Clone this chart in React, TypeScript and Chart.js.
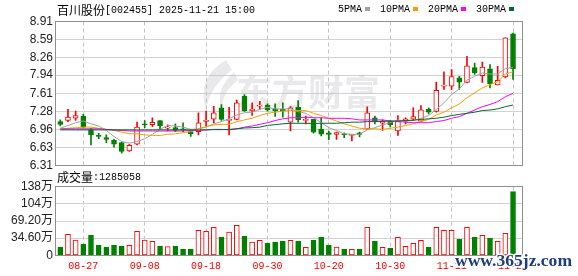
import React, { useEffect, useRef } from 'react';
import { Chart, registerables } from 'chart.js';

Chart.register(...registerables);

// ---------- data ----------
const stockName = '百川股份';
const stockCode = '002455';
const stamp = '2025-11-21 15:00';

const dates = [
  '08-22', '08-25', '08-26', '08-27', '08-28', '08-29', '09-01', '09-02', '09-03', '09-04',
  '09-05', '09-08', '09-09', '09-10', '09-11', '09-12', '09-15', '09-16', '09-17', '09-18',
  '09-19', '09-22', '09-23', '09-24', '09-25', '09-26', '09-29', '09-30', '10-09', '10-10',
  '10-13', '10-14', '10-15', '10-16', '10-17', '10-20', '10-21', '10-22', '10-23', '10-24',
  '10-27', '10-28', '10-29', '10-30', '10-31', '11-03', '11-04', '11-05', '11-06', '11-07',
  '11-10', '11-11', '11-12', '11-13', '11-14', '11-17', '11-18', '11-19', '11-20', '11-21',
];
const axisDates = ['08-27', '09-08', '09-18', '09-30', '10-20', '10-30', '11-11', '11-21'];

const opens = [
  7.10, 7.12, 7.16, 7.20, 6.95, 6.85, 6.81, 6.76, 6.72, 6.57,
  6.69, 7.06, 7.045, 7.12, 6.98, 6.99, 6.96, 6.92, 6.92, 7.105,
  7.145, 7.35, 7.12, 7.14, 7.56, 7.30, 7.38, 7.40, 7.32, 7.32,
  7.09, 7.36, 7.12, 7.14, 6.96, 6.895, 6.87, 6.88, 6.85, 6.895,
  6.97, 7.17, 7.07, 7.105, 6.93, 7.11, 7.145, 7.11, 7.32, 7.285,
  7.74, 7.74, 7.89, 7.81, 8.075, 7.93, 8.055, 7.765, 7.91, 8.688,
];
const highs = [
  7.13, 7.32, 7.29, 7.23, 6.98, 6.89, 6.86, 6.78, 6.73, 6.69,
  7.09, 7.12, 7.17, 7.12, 7.04, 7.06, 7.08, 6.96, 7.26, 7.29,
  7.375, 7.41, 7.36, 7.49, 7.59, 7.44, 7.465, 7.42, 7.42, 7.44,
  7.37, 7.48, 7.20, 7.14, 7.17, 6.93, 6.91, 6.895, 6.86, 6.91,
  7.365, 7.20, 7.13, 7.12, 7.21, 7.17, 7.35, 7.39, 7.35, 7.815,
  8.00, 8.04, 7.92, 8.28, 8.16, 8.175, 8.13, 8.10, 8.615, 8.70,
];
const lows = [
  7.02, 7.10, 7.12, 6.99, 6.68, 6.79, 6.72, 6.64, 6.53, 6.56,
  6.68, 6.99, 7.01, 6.97, 6.93, 6.92, 6.92, 6.83, 6.86, 7.01,
  7.075, 7.12, 6.86, 7.13, 7.285, 7.21, 7.315, 7.29, 7.195, 7.18,
  6.93, 7.09, 7.06, 6.89, 6.84, 6.775, 6.78, 6.81, 6.75, 6.825,
  6.96, 7.06, 6.94, 7.01, 6.85, 7.06, 7.12, 7.10, 7.24, 7.27,
  7.68, 7.68, 7.68, 7.80, 7.955, 7.81, 7.71, 7.765, 7.89, 7.865,
];
const closes = [
  7.05, 7.18, 7.21, 7.00, 6.86, 6.83, 6.78, 6.69, 6.56, 6.67,
  7.00, 7.04, 7.085, 7.02, 7.00, 6.94, 6.95, 6.88, 7.08, 7.125,
  7.26, 7.14, 7.14, 7.44, 7.30, 7.325, 7.40, 7.31, 7.30, 7.30,
  7.35, 7.135, 7.14, 6.91, 6.875, 6.87, 6.90, 6.86, 6.855, 6.87,
  7.26, 7.11, 7.11, 7.045, 7.11, 7.15, 7.19, 7.315, 7.27, 7.665,
  7.76, 7.915, 7.815, 8.11, 7.98, 8.085, 7.785, 7.845, 8.615, 8.056,
];

const ma5 = [
  6.98, 7.03, 7.08, 7.11, 7.06, 7.02, 6.94, 6.83, 6.74, 6.71,
  6.74, 6.79, 6.87, 6.96, 7.03, 7.02, 7.00, 6.96, 6.97, 7.00,
  7.06, 7.10, 7.15, 7.22, 7.26, 7.27, 7.32, 7.36, 7.33, 7.33,
  7.33, 7.28, 7.25, 7.17, 7.08, 6.99, 6.94, 6.88, 6.87, 6.87,
  6.95, 6.99, 7.04, 7.08, 7.13, 7.11, 7.12, 7.16, 7.21, 7.32,
  7.44, 7.59, 7.69, 7.85, 7.92, 7.98, 7.96, 7.96, 8.06, 8.08,
];
const ma10 = [
  6.96, 6.98, 6.99, 7.00, 7.00, 6.98, 6.96, 6.94, 6.91, 6.88,
  6.88, 6.86, 6.85, 6.85, 6.87, 6.88, 6.90, 6.92, 6.97, 7.01,
  7.04, 7.05, 7.05, 7.10, 7.13, 7.16, 7.21, 7.25, 7.27, 7.29,
  7.30, 7.30, 7.30, 7.25, 7.21, 7.16, 7.11, 7.06, 7.02, 6.98,
  6.97, 6.97, 6.96, 6.98, 7.00, 7.03, 7.06, 7.10, 7.14, 7.22,
  7.27, 7.35, 7.42, 7.53, 7.62, 7.71, 7.77, 7.82, 7.96, 8.00,
];
const ma20 = [
  6.97, 6.97, 6.97, 6.97, 6.97, 6.97, 6.96, 6.95, 6.94, 6.93,
  6.93, 6.93, 6.93, 6.93, 6.93, 6.93, 6.93, 6.94, 6.94, 6.95,
  6.96, 6.96, 6.95, 6.97, 7.00, 7.02, 7.05, 7.08, 7.12, 7.15,
  7.17, 7.17, 7.18, 7.17, 7.17, 7.16, 7.16, 7.16, 7.15, 7.13,
  7.13, 7.13, 7.13, 7.11, 7.10, 7.09, 7.08, 7.08, 7.08, 7.10,
  7.12, 7.16, 7.19, 7.25, 7.31, 7.37, 7.41, 7.46, 7.55, 7.61,
];
const ma30 = [
  6.95, 6.95, 6.95, 6.95, 6.95, 6.95, 6.95, 6.95, 6.95, 6.95,
  6.95, 6.95, 6.95, 6.95, 6.95, 6.95, 6.95, 6.95, 6.95, 6.95,
  6.955, 6.955, 6.96, 6.97, 6.985, 6.99, 7.00, 7.03, 7.045, 7.06,
  7.07, 7.07, 7.07, 7.065, 7.07, 7.07, 7.07, 7.08, 7.09, 7.09,
  7.10, 7.10, 7.105, 7.11, 7.11, 7.12, 7.125, 7.14, 7.15, 7.16,
  7.18, 7.21, 7.23, 7.25, 7.27, 7.30, 7.31, 7.33, 7.37, 7.40,
];
const maLabels = ['5PMA', '10PMA', '20PMA', '30PMA'];

// volume in 万 (10k shares); last one equals lastVolume
const lastVolume = 1285058;
const volumes = [
  16.8, 42.3, 30.9, 22.8, 41.0, 20.8, 16.8, 20.8, 18.8, 20.2,
  48.4, 30.9, 28.2, 18.8, 17.5, 18.8, 12.8, 12.8, 50.4, 48.4,
  56.4, 37.0, 47.0, 60.5, 39.0, 26.9, 30.2, 24.9, 26.9, 28.9,
  30.2, 28.9, 16.1, 30.9, 37.0, 20.8, 16.8, 12.8, 12.1, 12.8,
  56.4, 28.9, 16.1, 14.8, 36.3, 18.1, 24.2, 30.2, 16.8, 56.4,
  50.4, 50.4, 32.2, 56.4, 37.0, 40.3, 34.3, 28.2, 44.3, 128.5058,
];
const volumeUp = [
  0, 1, 1, 0, 0, 0, 0, 0, 0, 1,
  1, 1, 1, 0, 1, 0, 0, 0, 1, 1,
  1, 0, 1, 1, 0, 1, 1, 0, 0, 0,
  1, 0, 1, 0, 0, 0, 1, 0, 1, 0,
  1, 0, 1, 0, 1, 1, 1, 1, 0, 1,
  1, 1, 0, 1, 0, 1, 0, 1, 1, 0,
];

const priceTickLabels = ['6.31', '6.63', '6.96', '7.28', '7.61', '7.94', '8.26', '8.59', '8.91'];
const volTickValues = [0, 34.6, 69.2, 103.8, 138.4];
const volTickLabels = ['0', '34.60万', '69.20万', '104万', '138万'];

// ---------- style ----------
const W = 578;
const H = 276;
const RED = '#ff0000';
const GREEN = '#008000';
const MA_COLORS = ['#a0a0a0', '#f2a000', '#ff00ff', '#006a30'];
const SANS = '"Liberation Sans", "Noto Sans CJK SC", sans-serif';
const CJK = '"Noto Sans CJK SC", "Liberation Sans", sans-serif';
const MONO = '"Liberation Mono", "DejaVu Sans Mono", monospace';
const X_MIN = -0.56;
const X_MAX = 60.17;

function drawFrame(chart: any) {
  const { ctx, chartArea: a } = chart;
  ctx.save();
  ctx.strokeStyle = '#909090';
  ctx.lineWidth = 1;
  const x0 = Math.round(a.left) - 0.5;
  const x1 = Math.round(a.right) + 0.5;
  const y0 = Math.round(a.top) - 0.5;
  const y1 = Math.round(a.bottom) + 0.5;
  ctx.strokeRect(x0, y0, x1 - x0, y1 - y0);
  ctx.restore();
}

function drawBrandMark(ctx: CanvasRenderingContext2D) {
  // faint 东方财富 watermark with its swoosh emblem
  ctx.save();
  ctx.fillStyle = 'rgba(190,190,200,0.34)';
  ctx.beginPath();
  ctx.moveTo(226, 60);
  ctx.quadraticCurveTo(196, 78, 206, 110);
  ctx.quadraticCurveTo(210, 86, 232, 70);
  ctx.closePath();
  ctx.fill();
  ctx.beginPath();
  ctx.moveTo(234, 72);
  ctx.quadraticCurveTo(214, 90, 222, 110);
  ctx.quadraticCurveTo(222, 92, 238, 80);
  ctx.closePath();
  ctx.fill();
  ctx.font = `bold 36px ${CJK}`;
  ctx.textBaseline = 'middle';
  ctx.fillText('东方财富', 236, 92);
  ctx.restore();
}

export default function App() {
  const priceRef = useRef<HTMLCanvasElement | null>(null);
  const volRef = useRef<HTMLCanvasElement | null>(null);

  useEffect(() => {
    document.body.style.margin = '0';
    const up = closes.map((c, i) => c >= opens[i]);
    const tickIdx = axisDates.map((d) => dates.indexOf(d));

    const xScale = (labels: boolean): any => ({
      type: 'linear',
      min: X_MIN,
      max: X_MAX,
      offset: false,
      afterBuildTicks: (s: any) => {
        s.ticks = tickIdx.map((v) => ({ value: v }));
      },
      ticks: {
        display: labels,
        autoSkip: false,
        maxRotation: 0,
        minRotation: 0,
        padding: 5,
        color: RED,
        font: { family: MONO, size: 10 },
        callback: (_v: any, i: number) => axisDates[i],
      },
      grid: { offset: false, color: '#c4c4c4', lineWidth: 1, drawTicks: false },
      border: { display: false, dash: [4, 3] },
      afterFit: (s: any) => {
        s.height = labels ? 20.7 : 0;
      },
    });

    const yScale = (min: number, max: number, values: number[], labels: string[]): any => ({
      type: 'linear',
      min,
      max,
      afterBuildTicks: (s: any) => {
        s.ticks = values.map((v) => ({ value: v }));
      },
      ticks: {
        autoSkip: false,
        color: '#222',
        font: { family: SANS, size: 12 },
        padding: 3,
        callback: (_v: any, i: number) => labels[i],
      },
      grid: { color: '#d2d2d2', drawTicks: false },
      border: { display: false },
      afterFit: (s: any) => {
        s.width = 56;
      },
    });

    const maSets = [ma5, ma10, ma20, ma30].map((arr, k) => ({
      type: 'line' as const,
      label: maLabels[k],
      data: arr.map((v, i) => ({ x: i, y: v })),
      borderColor: MA_COLORS[k],
      borderWidth: 1,
      pointRadius: 0,
      tension: 0,
      order: 4 - k,
    }));

    const priceValues = priceTickLabels.map((t) => parseFloat(t));

    const priceChart = new Chart(priceRef.current as HTMLCanvasElement, {
      type: 'bar',
      data: {
        datasets: [
          ...maSets,
          {
            type: 'bar',
            label: 'body',
            data: opens.map((o, i) => ({ x: i, y: [o, closes[i]] })) as any,
            backgroundColor: up.map((u) => (u ? '#ffffff' : GREEN)),
            borderColor: up.map((u) => (u ? RED : GREEN)),
            borderWidth: 1,
            borderSkipped: false,
            barThickness: 5,
            grouped: false,
            minBarLength: 1,
            order: 10,
          } as any,
          {
            type: 'bar',
            label: 'wick',
            data: lows.map((l, i) => ({ x: i, y: [l, highs[i]] })) as any,
            backgroundColor: up.map((u) => (u ? RED : GREEN)),
            borderWidth: 0,
            barThickness: 1,
            grouped: false,
            order: 11,
          } as any,
        ],
      },
      options: {
        responsive: false,
        maintainAspectRatio: false,
        animation: false,
        devicePixelRatio: 1,
        events: [],
        layout: { padding: { left: 0, right: 56, top: 21.5, bottom: H - 165.3 } },
        plugins: { legend: { display: false }, tooltip: { enabled: false } },
        scales: {
          x: xScale(false),
          y: yScale(priceValues[0], priceValues[priceValues.length - 1], priceValues, priceTickLabels),
        } as any,
      },
      plugins: [
        {
          id: 'priceDecor',
          beforeDatasetsDraw(chart: any) {
            drawBrandMark(chart.ctx);
            drawFrame(chart);
          },
          afterDraw(chart: any) {
            const ctx = chart.ctx;
            ctx.save();
            ctx.fillStyle = '#000';
            ctx.textBaseline = 'middle';
            ctx.font = `12px ${CJK}`;
            ctx.fillText(stockName, 57, 10);
            const x = 57 + ctx.measureText(stockName).width;
            ctx.font = `10px ${MONO}`;
            ctx.fillText(`[${stockCode}] ${stamp}`, x, 10);
            let lx = 338;
            maLabels.forEach((lab, k) => {
              ctx.fillStyle = '#000';
              ctx.font = `10px ${MONO}`;
              ctx.fillText(lab, lx, 9);
              lx += ctx.measureText(lab).width + 3;
              ctx.fillStyle = MA_COLORS[k];
              ctx.fillRect(lx, 7, 5, 4);
              lx += 15;
            });
            ctx.restore();
          },
        },
      ],
    });

    const volChart = new Chart(volRef.current as HTMLCanvasElement, {
      type: 'bar',
      data: {
        datasets: [
          {
            label: 'volume',
            data: volumes.map((v, i) => ({ x: i, y: v })) as any,
            backgroundColor: volumeUp.map((u) => (u ? '#ffffff' : GREEN)),
            borderColor: volumeUp.map((u) => (u ? RED : GREEN)),
            borderWidth: 1,
            borderSkipped: false,
            barThickness: 5,
            grouped: false,
          } as any,
        ],
      },
      options: {
        responsive: false,
        maintainAspectRatio: false,
        animation: false,
        devicePixelRatio: 1,
        events: [],
        layout: { padding: { left: 0, right: 56, top: 186.7, bottom: 0 } },
        plugins: { legend: { display: false }, tooltip: { enabled: false } },
        scales: {
          x: xScale(true),
          y: yScale(volTickValues[0], volTickValues[volTickValues.length - 1], volTickValues, volTickLabels),
        } as any,
      },
      plugins: [
        {
          id: 'volDecor',
          beforeDatasetsDraw(chart: any) {
            drawFrame(chart);
          },
          afterDraw(chart: any) {
            const ctx = chart.ctx;
            ctx.save();
            ctx.fillStyle = '#000';
            ctx.textBaseline = 'middle';
            ctx.font = `12px ${CJK}`;
            const lab = '成交量';
            ctx.fillText(lab, 57, 177);
            const x = 57 + ctx.measureText(lab).width;
            ctx.font = `10px ${MONO}`;
            ctx.fillText(`:${lastVolume}`, x, 177);

            // site watermark
            const wm = 'www.365jz.com';
            ctx.font = 'bold 17px "Liberation Serif", serif';
            const tw = ctx.measureText(wm).width;
            ctx.translate(455, 266);
            ctx.scale(117 / tw, 1);
            ctx.textBaseline = 'alphabetic';
            ctx.lineJoin = 'round';
            ctx.strokeStyle = 'rgba(255,255,255,0.9)';
            ctx.lineWidth = 3;
            ctx.strokeText(wm, 0, 0);
            ctx.fillStyle = '#1d3d7d';
            ctx.fillText(wm, 0, 0);
            ctx.restore();
          },
        },
      ],
    });

    return () => {
      priceChart.destroy();
      volChart.destroy();
    };
  }, []);

  return (
    <div style={{ position: 'relative', width: W, height: H, background: '#fff' }}>
      <canvas ref={priceRef} width={W} height={H} style={{ position: 'absolute', left: 0, top: 0 }} />
      <canvas ref={volRef} width={W} height={H} style={{ position: 'absolute', left: 0, top: 0 }} />
    </div>
  );
}
